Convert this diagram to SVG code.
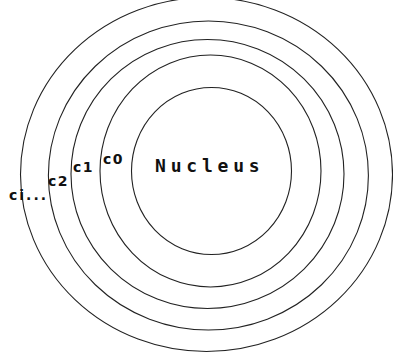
<svg xmlns="http://www.w3.org/2000/svg" width="393" height="362" viewBox="0 0 393 362">
<style>
.ring{fill:none;stroke:#222;stroke-width:1.1}
.lbl{font-family:"DejaVu Sans","Liberation Sans",sans-serif;font-size:14px;font-weight:bold;fill:#111;letter-spacing:1.5px}
.nuc{font-family:"DejaVu Sans Mono","Liberation Mono",monospace;font-size:18px;font-weight:bold;fill:#111;letter-spacing:4.8px}
</style>
<rect width="393" height="362" fill="#fff"/>
<g id="connectors"/>
<g id="ring-ci"><ellipse class="ring" cx="206.5" cy="174.5" rx="186" ry="177"/></g>
<g id="ring-c2"><ellipse class="ring" cx="208.4" cy="175.5" rx="160" ry="154.5"/></g>
<g id="ring-c1"><ellipse class="ring" cx="207.5" cy="174" rx="136.5" ry="134.5"/></g>
<g id="ring-c0"><ellipse class="ring" cx="210.5" cy="171" rx="110.5" ry="116"/></g>
<g id="nucleus"><ellipse class="ring" cx="211.5" cy="171" rx="80" ry="83.5"/>
<text class="nuc" x="155" y="172">Nucleus</text></g>
<g id="labels">
<text class="lbl" x="103" y="164">c0</text>
<text class="lbl" x="73" y="172">c1</text>
<text class="lbl" x="48" y="186">c2</text>
<text class="lbl" x="9" y="200" style="letter-spacing:2px">ci...</text>
</g>
</svg>
